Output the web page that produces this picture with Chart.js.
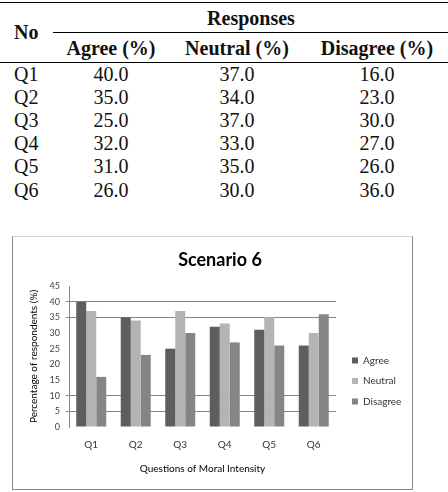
<!DOCTYPE html>
<html>
<head>
<meta charset="utf-8">
<script src="https://cdn.jsdelivr.net/npm/chart.js@4.4.1/dist/chart.umd.min.js"></script>
<style>
    html, body { margin: 0; padding: 0; background: #fff; }
    body { width: 448px; height: 492px; position: relative; overflow: hidden; font-family: "Liberation Serif", "Times New Roman", serif; color: #111; }
    .rule { position: absolute; height: 1px; background: #000; }
    .t { position: absolute; font-size: 20px; line-height: 23px; white-space: nowrap; }
    .b { font-weight: bold; }
    .c { transform: translateX(-50%); }
    #frame { position: absolute; left: 12px; top: 236px; width: 399px; height: 252px; border: 1px solid #8a8a8a; border-top-color: #d2d2d2; }
    #frame canvas { display: block; }
</style>
</head>
<body>
<div class="rule" style="left:0; top:2px; width:448px;"></div>
<div class="rule" style="left:53px; top:32px; width:395px;"></div>
<div class="rule" style="left:0; top:62px; width:448px;"></div>
<div class="t b c" style="left:251px; top:7px;">Responses</div>
<div class="t b" style="left:14px; top:21px;">No</div>
<div id="table"></div>
<div id="frame"><canvas id="chart" width="399" height="252"></canvas></div>

<script>
const questions = ['Q1', 'Q2', 'Q3', 'Q4', 'Q5', 'Q6'];
const seriesNames = ['Agree', 'Neutral', 'Disagree'];
const agree = [40, 35, 25, 32, 31, 26];
const neutral = [37, 34, 37, 33, 35, 30];
const disagree = [16, 23, 30, 27, 26, 36];
const gridValues = [5, 10, 35, 40];   // only these grid lines show in the picture

// table
const table = document.getElementById('table');
const colX = [111, 237, 377];
seriesNames.forEach((name, j) => {
    const d = document.createElement('div');
    d.className = 't b c';
    d.style.left = colX[j] + 'px';
    d.style.top = '37px';
    d.textContent = name + ' (%)';
    table.appendChild(d);
});
const series = [agree, neutral, disagree];
questions.forEach((q, i) => {
    const top = 62.5 + i * 23.2;
    const lab = document.createElement('div');
    lab.className = 't';
    lab.style.left = '14px';
    lab.style.top = top + 'px';
    lab.textContent = q;
    table.appendChild(lab);
    series.forEach((s, j) => {
        const d = document.createElement('div');
        d.className = 't c';
        d.style.left = colX[j] + 'px';
        d.style.top = top + 'px';
        d.textContent = s[i].toFixed(1);
        table.appendChild(d);
    });
});

// chart
Chart.defaults.font.family = 'Lato';

const legendTweak = {
    id: 'legendTweak',
    beforeLayout(chart) {
        const lg = chart.legend;
        if (lg && !lg._patched) {
            const fit = lg.fit;
            lg.fit = function () { fit.call(this); this.width = 76; };
            lg._patched = true;
        }
    },
    afterLayout(chart) {
        const lg = chart.legend;
        lg.left = chart.chartArea.right + 5.5;
        lg.right = lg.left + lg.width;
        lg.top = 108;
    }
};

const ctx = document.getElementById('chart').getContext('2d');
new Chart(ctx, {
    type: 'bar',
    data: {
        labels: questions,
        datasets: [
            { label: 'Agree', data: agree, backgroundColor: '#5e5e5e' },
            { label: 'Neutral', data: neutral, backgroundColor: '#b4b4b4' },
            { label: 'Disagree', data: disagree, backgroundColor: '#858585' }
        ]
    },
    options: {
        responsive: false,
        animation: false,
        datasets: { bar: { categoryPercentage: 0.674, barPercentage: 1, borderWidth: 0 } },
        layout: { padding: { left: 15, right: 0, top: 0, bottom: 14 } },
        plugins: {
            title: {
                display: true,
                text: 'Scenario 6',
                color: '#000',
                font: { size: 18, weight: 'bold' },
                padding: { top: 12.2, bottom: 15.2 }
            },
            legend: {
                position: 'right',
                align: 'start',
                labels: { boxWidth: 6, boxHeight: 6, padding: 10.5, color: '#333', font: { size: 10 } }
            },
            tooltip: { enabled: false }
        },
        scales: {
            x: {
                grid: { display: false, drawTicks: false },
                border: { display: false },
                ticks: { padding: 12, color: '#333', font: { size: 10 } },
                title: { display: true, text: 'Questions of Moral Intensity', color: '#000', font: { size: 10 }, padding: 0 },
                afterFit(scale) { scale.height = 48; }
            },
            y: {
                min: 0,
                max: 45,
                ticks: { stepSize: 5, padding: 6, color: '#444', font: { size: 9 } },
                grid: {
                    color: c => gridValues.includes(c.tick.value) ? '#868686' : 'rgba(0,0,0,0)',
                    tickLength: 3
                },
                border: { display: true, color: '#868686' },
                title: { display: true, text: 'Percentage of respondents (%)', color: '#000', font: { size: 10 }, padding: 0 },
                afterFit(scale) { scale.width = 41; }
            }
        }
    },
    plugins: [legendTweak]
});
</script>
</body>
</html>
